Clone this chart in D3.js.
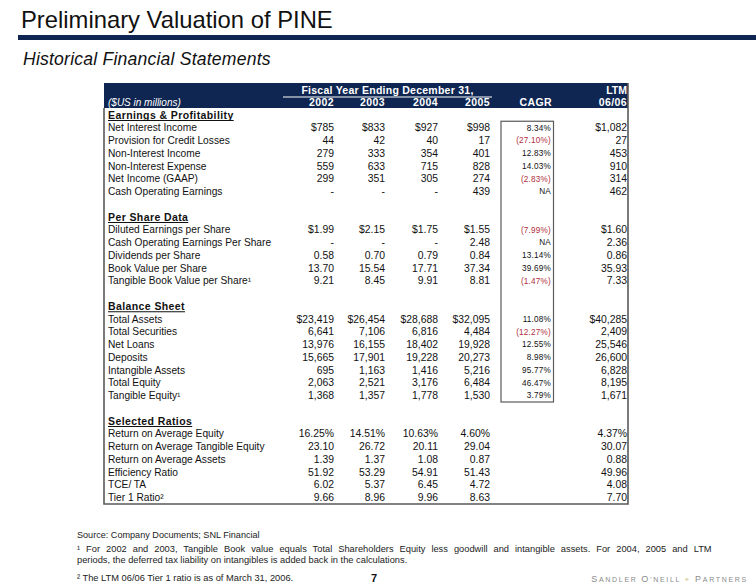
<!DOCTYPE html>
<html><head><meta charset="utf-8">
<script src="https://cdn.jsdelivr.net/npm/d3@7"></script>
<style>
body{margin:0;background:#fff}
svg{display:block}
text{font-family:"Liberation Sans",Arial,Helvetica,sans-serif}
</style>
</head><body>
<svg id="c" width="756" height="587"></svg>
<script>
// ---------- DATA ----------
const title = "Preliminary Valuation of PINE";
const subtitle = "Historical Financial Statements";
const headerSpan = "Fiscal Year Ending December 31,";
const unitsLabel = "($US in millions)";
const columns = ["2002", "2003", "2004", "2005", "CAGR", "LTM"];
const headerTopLabels = ["", "", "", "", "", "LTM"];
const headerBottomLabels = ["2002", "2003", "2004", "2005", "CAGR", "06/06"];
const sections = ["Earnings & Profitability", "Per Share Data", "Balance Sheet", "Selected Ratios"];
const sectionSizes = [6, 5, 7, 6];
const labels = [
  "Net Interest Income", "Provision for Credit Losses", "Non-Interest Income", "Non-Interest Expense", "Net Income (GAAP)", "Cash Operating Earnings",
  "Diluted Earnings per Share", "Cash Operating Earnings Per Share", "Dividends per Share", "Book Value per Share", "Tangible Book Value per Share\u00B9",
  "Total Assets", "Total Securities", "Net Loans", "Deposits", "Intangible Assets", "Total Equity", "Tangible Equity\u00B9",
  "Return on Average Equity", "Return on Average Tangible Equity", "Return on Average Assets", "Efficiency Ratio", "TCE/ TA", "Tier 1 Ratio\u00B2"
];
const fy2002 = [785, 44, 279, 559, 299, null, 1.99, null, 0.58, 13.70, 9.21, 23419, 6641, 13976, 15665, 695, 2063, 1368, 16.25, 23.10, 1.39, 51.92, 6.02, 9.66];
const fy2003 = [833, 42, 333, 633, 351, null, 2.15, null, 0.70, 15.54, 8.45, 26454, 7106, 16155, 17901, 1163, 2521, 1357, 14.51, 26.72, 1.37, 53.29, 5.37, 8.96];
const fy2004 = [927, 40, 354, 715, 305, null, 1.75, null, 0.79, 17.71, 9.91, 28688, 6816, 18402, 19228, 1416, 3176, 1778, 10.63, 20.11, 1.08, 54.91, 6.45, 9.96];
const fy2005 = [998, 17, 401, 828, 274, 439, 1.55, 2.48, 0.84, 37.34, 8.81, 32095, 4484, 19928, 20273, 5216, 6484, 1530, 4.60, 29.04, 0.87, 51.43, 4.72, 8.63];
const cagr   = [8.34, -27.10, 12.83, 14.03, -2.83, null, -7.99, null, 13.14, 39.69, -1.47, 11.08, -12.27, 12.55, 8.98, 95.77, 46.47, 3.79];
const ltm    = [1082, 27, 453, 910, 314, 462, 1.60, 2.36, 0.86, 35.93, 7.33, 40285, 2409, 25546, 26600, 6828, 8195, 1671, 4.37, 30.07, 0.88, 49.96, 4.08, 7.70];
const sourceNote = "Source: Company Documents; SNL Financial";
const footnotes = [
  "\u00B9 For 2002 and 2003, Tangible Book value equals Total Shareholders Equity less goodwill and intangible assets.  For 2004, 2005 and LTM",
  "periods, the deferred tax liability on intangibles is added back in the calculations.",
  "\u00B2 The LTM 06/06 Tier 1 ratio is as of March 31, 2006."
];
const pageNumber = "7";

// ---------- LAYOUT ----------
const svg = d3.select("#c");
const navy = "#0e2651";
const borderCol = "#5a5a5a";
const red = "#b0303c";

const rows = [];
let r = 0, k = 0;
sections.forEach((s, si) => {
  rows.push({type: "section", text: s, row: r++});
  for (let i = 0; i < sectionSizes[si]; i++) {
    rows.push({type: "data", sec: si, first: i === 0, idx: k, row: r++});
    k++;
  }
  if (si < sections.length - 1) r++;
});
const nRows = r - 1;

const y = d3.scaleLinear().domain([0, nRows]).range([115, 497.5]);
const x = d3.scaleOrdinal().domain(columns).range([334, 385, 438, 490, 552, 627]);
const labelX = 108;
const tableLeft = 104, tableRight = 628, bandTop = 83, bandBottom = 108, tableBottom = 504;

// Title
svg.append("text").attr("x", 21).attr("y", 28).attr("font-size", 23.8).attr("fill", "#111").text(title);
svg.append("rect").attr("x", 18).attr("y", 35).attr("width", 756 - 18).attr("height", 5).attr("fill", navy);
svg.append("text").attr("x", 23).attr("y", 65).attr("font-size", 17.6).attr("letter-spacing", 0.2).attr("font-style", "italic").attr("fill", "#111").text(subtitle);

// header band
svg.append("rect").attr("x", tableLeft).attr("y", bandTop).attr("width", tableRight - tableLeft).attr("height", bandBottom - bandTop).attr("fill", navy);
const spanX0 = 283, spanX1 = 492;
svg.append("text").attr("x", (spanX0 + spanX1) / 2).attr("y", 94).attr("text-anchor", "middle")
  .attr("font-size", 10.5).attr("font-weight", "bold").attr("letter-spacing", 0.25).attr("fill", "#fff").text(headerSpan);
svg.append("line").attr("x1", spanX0).attr("x2", spanX1).attr("y1", 97).attr("y2", 97).attr("stroke", "#fff").attr("stroke-width", 1);
svg.append("text").attr("x", labelX).attr("y", 106).attr("font-size", 10).attr("font-style", "italic").attr("fill", "#fff").text(unitsLabel);
svg.selectAll("text.h1").data(columns).join("text").attr("class", "h1")
  .attr("x", d => x(d)).attr("y", 94).attr("text-anchor", "end").attr("font-size", 10.5).attr("font-weight", "bold").attr("fill", "#fff")
  .text((d, i) => headerTopLabels[i]);
svg.selectAll("text.h2").data(columns).join("text").attr("class", "h2")
  .attr("x", d => x(d)).attr("y", 106).attr("text-anchor", "end").attr("font-size", 10.5).attr("font-weight", "bold").attr("letter-spacing", 0.4).attr("fill", "#fff")
  .text((d, i) => headerBottomLabels[i]);

// borders
const bpath = d3.path();
bpath.moveTo(tableLeft, bandBottom); bpath.lineTo(tableLeft, tableBottom); bpath.lineTo(tableRight, tableBottom); bpath.lineTo(tableRight, bandTop);
svg.append("path").attr("d", bpath.toString()).attr("fill", "none").attr("stroke", borderCol).attr("stroke-width", 1.6);
const cagrRows = rows.filter(d => d.type === "data" && d.idx < cagr.length);
const cTop = y(cagrRows[0].row) - 6.5, cBot = y(cagrRows[cagrRows.length - 1].row) + 6.5;
svg.append("rect").attr("x", 501).attr("y", cTop).attr("width", 552.5 - 501 + 1).attr("height", cBot - cTop)
  .attr("fill", "none").attr("stroke", borderCol).attr("stroke-width", 1.2);

// section headers
const secG = svg.selectAll("g.sec").data(rows.filter(d => d.type === "section")).join("g").attr("class", "sec");
secG.append("text").attr("x", labelX).attr("y", d => y(d.row)).attr("dy", "0.35em")
  .attr("font-size", 10.5).attr("font-weight", "bold").attr("letter-spacing", 0.4).attr("fill", "#111").text(d => d.text);
secG.each(function() {
  const t = d3.select(this).select("text");
  const w = t.node().getComputedTextLength();
  const yy = +t.attr("y") + 5.5;
  d3.select(this).append("line").attr("x1", labelX).attr("x2", labelX + w).attr("y1", yy).attr("y2", yy).attr("stroke", "#111").attr("stroke-width", 1);
});

// formats
const f0 = d3.format(",.0f"), f2 = d3.format(".2f");
function fmt(v, d) {
  if (v === null || v === undefined) return "-";
  if (d.sec === 0 || d.sec === 2) return (d.first ? "$" : "") + f0(v);
  if (d.sec === 1) return (d.first ? "$" : "") + f2(v);
  return f2(v) + (d.first ? "%" : "");
}
const series = [fy2002, fy2003, fy2004, fy2005];
const dataRows = rows.filter(d => d.type === "data");

svg.selectAll("text.lab").data(dataRows).join("text").attr("class", "lab")
  .attr("x", labelX).attr("y", d => y(d.row)).attr("dy", "0.35em").attr("font-size", 10.2).attr("fill", "#111")
  .text(d => labels[d.idx]);

series.forEach((s, si) => {
  svg.selectAll("text.v" + si).data(dataRows).join("text").attr("class", "v" + si)
    .attr("x", x(columns[si])).attr("y", d => y(d.row)).attr("dy", "0.35em").attr("text-anchor", "end")
    .attr("font-size", 10.4).attr("fill", "#111").text(d => fmt(s[d.idx], d));
});
svg.selectAll("text.ltm").data(dataRows).join("text").attr("class", "ltm")
  .attr("x", x("LTM")).attr("y", d => y(d.row)).attr("dy", "0.35em").attr("text-anchor", "end")
  .attr("font-size", 10.4).attr("fill", "#111").text(d => fmt(ltm[d.idx], d));

svg.selectAll("text.cagr").data(cagrRows).join("text").attr("class", "cagr")
  .attr("x", x("CAGR") - 1).attr("y", d => y(d.row)).attr("dy", "0.35em").attr("text-anchor", "end")
  .attr("font-size", 8.2).attr("letter-spacing", 0.2)
  .attr("fill", d => (cagr[d.idx] !== null && cagr[d.idx] < 0) ? red : "#111")
  .text(d => {
    const v = cagr[d.idx];
    if (v === null) return "NA";
    return v < 0 ? "(" + f2(-v) + "%)" : f2(v) + "%";
  });

// footer
svg.append("text").attr("x", 77).attr("y", 538).attr("font-size", 9.1).attr("fill", "#222").text(sourceNote);
const fy = [552, 563, 581];
const fn = svg.selectAll("text.fn").data(footnotes).join("text").attr("class", "fn")
  .attr("x", 77).attr("y", (d, i) => fy[i]).attr("font-size", 9.3).attr("fill", "#222").text(d => d);
// first footnote line is justified to the paragraph width
fn.filter((d, i) => i === 0).each(function(d) {
  const w = this.getComputedTextLength();
  const spaces = (d.match(/ /g) || []).length;
  d3.select(this).attr("word-spacing", Math.max(0, (715 - 77 - w) / spaces));
});
svg.append("text").attr("x", 374).attr("y", 582).attr("text-anchor", "middle").attr("font-size", 11).attr("font-weight", "bold").attr("fill", "#111").text(pageNumber);

const brand = svg.append("text").attr("x", 748).attr("y", 582).attr("text-anchor", "end").attr("fill", "#8a8a8a").attr("letter-spacing", 1.7);
[["S", 9], ["ANDLER ", 7], ["O", 9], ["\u2019NEILL ", 7], ["+", 8, "#c8c070"], [" P", 9], ["ARTNERS", 7]].forEach(p => {
  brand.append("tspan").attr("font-size", p[1]).attr("fill", p[2] || "#8a8a8a").text(p[0]);
});
</script>
</body></html>
